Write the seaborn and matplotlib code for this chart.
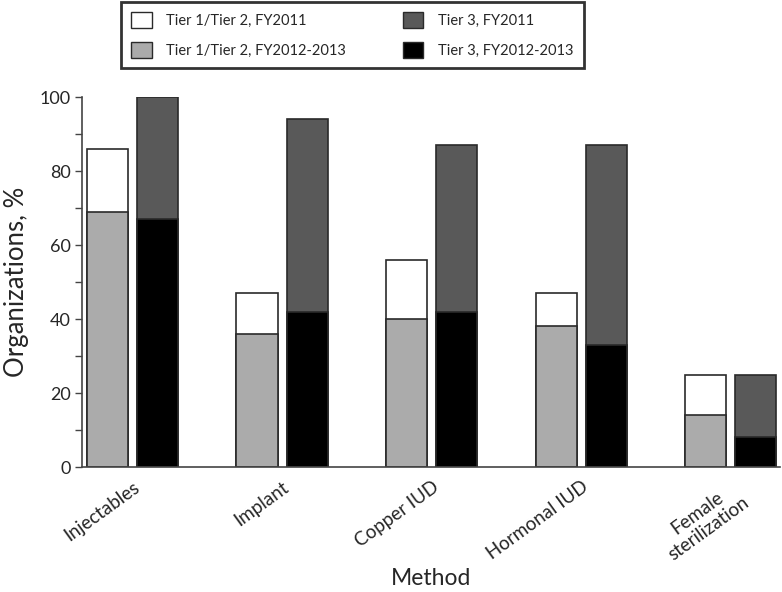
import numpy as np
import pandas as pd
import matplotlib
matplotlib.use("Agg")
import matplotlib.pyplot as plt
import seaborn as sns
from matplotlib.patches import Patch
from matplotlib.ticker import MultipleLocator

# Data
methods = ["Injectables", "Implant", "Copper IUD", "Hormonal IUD", "Female\nsterilization"]
tiers = ["Tier 1/Tier 2", "Tier 3"]
tier12_fy2011 = [86, 47, 56, 47, 25]
tier12_fy1213 = [69, 36, 40, 38, 14]
tier3_fy2011 = [100, 94, 87, 87, 25]
tier3_fy1213 = [67, 42, 42, 33, 8]

df_total = pd.DataFrame({
    "Method": methods * 2,
    "Tier": [tiers[0]] * 5 + [tiers[1]] * 5,
    "value": tier12_fy2011 + tier3_fy2011,
})
df_recent = pd.DataFrame({
    "Method": methods * 2,
    "Tier": [tiers[0]] * 5 + [tiers[1]] * 5,
    "value": tier12_fy1213 + tier3_fy1213,
})

sns.set_style("ticks")
plt.rcParams['font.family'] = ['Lato', 'DejaVu Sans']

fig = plt.figure(figsize=(7.82, 5.92), dpi=100)
ax = fig.add_axes([82 / 782, 1 - 467 / 592, (780 - 82) / 782, (467 - 97) / 592])

edge = "#2a2a2a"
# full height = FY2011, lower part = FY2012-2013
sns.barplot(data=df_total, x="Method", y="value", hue="Tier", hue_order=tiers,
            palette=["white", "#595959"], saturation=1, width=0.67, gap=0.18,
            edgecolor=edge, linewidth=1.2, errorbar=None, legend=False, ax=ax)
sns.barplot(data=df_recent, x="Method", y="value", hue="Tier", hue_order=tiers,
            palette=["#ababab", "black"], saturation=1, width=0.67, gap=0.18,
            edgecolor=edge, linewidth=1.2, errorbar=None, legend=False, ax=ax)

ax.set_ylim(0, 100)
ax.set_xlim(-0.338, 4.33)
ax.yaxis.set_major_locator(MultipleLocator(20))
ax.yaxis.set_minor_locator(MultipleLocator(10))
ax.tick_params(axis="y", which="both", direction="out", length=5, width=1,
               color="#444444", labelsize=13, pad=3)
ax.tick_params(axis="x", length=0, pad=8)
ax.set_xticks(range(len(methods)))
ax.set_xticklabels(methods, rotation=36, ha="right", rotation_mode="anchor",
                   ma="center", fontsize=13.5)
sns.despine(ax=ax)
for s in ["left", "bottom"]:
    ax.spines[s].set_color("#444444")
    ax.spines[s].set_linewidth(1.2)

ax.set_xlabel("Method", fontsize=16.5)
ax.xaxis.set_label_coords(0.5, -0.272)
ax.set_ylabel("Organizations, %", fontsize=18.5, labelpad=8)

handles = [
    Patch(facecolor="white", edgecolor=edge, label="Tier 1/Tier 2, FY2011"),
    Patch(facecolor="#ababab", edgecolor=edge, label="Tier 1/Tier 2, FY2012-2013"),
    Patch(facecolor="#595959", edgecolor=edge, label="Tier 3, FY2011"),
    Patch(facecolor="black", edgecolor=edge, label="Tier 3, FY2012-2013"),
]
leg = fig.legend(handles=handles, ncol=2, loc="upper left",
                 bbox_to_anchor=(121 / 782, 1 - 2 / 592), fontsize=10.5,
                 frameon=True, fancybox=False, edgecolor="black",
                 handlelength=1.4, handleheight=1.3, handletextpad=1.0,
                 columnspacing=3.9, labelspacing=0.95, borderpad=0.7,
                 borderaxespad=0)
leg.get_frame().set_linewidth(2)

fig.savefig("out.png", dpi=100)
